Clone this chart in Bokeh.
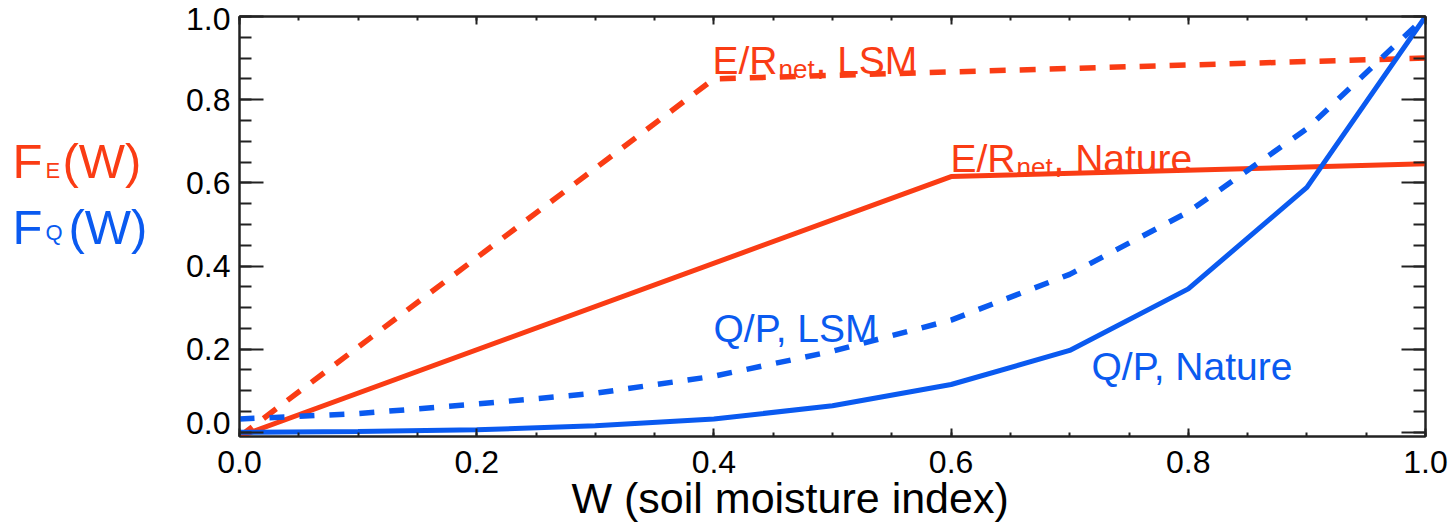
from bokeh.plotting import figure
from bokeh.models import Range1d, FixedTicker, LinearAxis, Label, Title, PrintfTickFormatter
from bokeh.layouts import row
from bokeh.embed import file_html
from bokeh.resources import INLINE

# ---------------- data ----------------
W = [0.0, 0.1, 0.2, 0.3, 0.4, 0.5, 0.6, 0.7, 0.8, 0.9, 1.0]
qp_nature = [0.0, 0.002, 0.006, 0.016, 0.032, 0.064, 0.115, 0.197, 0.345, 0.589, 1.0]
qp_lsm = [0.032, 0.045, 0.068, 0.094, 0.135, 0.195, 0.27, 0.38, 0.53, 0.73, 1.0]

er_lsm_w = [0.0, 0.4, 1.0]
er_lsm = [-0.01, 0.85, 0.90]
er_nature_w = [0.0, 0.6, 1.0]
er_nature = [-0.01, 0.615, 0.646]

major_ticks = [0.0, 0.2, 0.4, 0.6, 0.8, 1.0]
minor_ticks = [round(i * 0.05, 2) for i in range(21)]

ORANGE = "#FA3C14"
BLUE = "#0A5AF0"
INK = "#222222"
FONT = "Liberation Sans"

H = 528
LEFT_W = 168
MAIN_W = 1450 - LEFT_W

p = figure(width=MAIN_W, height=H, x_range=Range1d(0, 1), y_range=Range1d(-0.01, 1.0),
           output_backend="svg", toolbar_location=None,
           x_axis_type=None, y_axis_type=None,
           min_border_left=239 - LEFT_W, min_border_right=25, min_border_top=16,
           min_border_bottom=H - 436)
p.grid.visible = False
p.outline_line_color = INK
p.outline_line_width = 2
p.background_fill_color = "white"
p.border_fill_color = "white"


def make_axis(kind, labels):
    ax = LinearAxis(ticker=FixedTicker(ticks=major_ticks, minor_ticks=minor_ticks),
                    formatter=PrintfTickFormatter(format="%.1f"))
    ax.axis_line_color = INK
    ax.axis_line_width = 2
    ax.major_tick_line_color = INK
    ax.minor_tick_line_color = INK
    ax.major_tick_line_width = 2
    ax.minor_tick_line_width = 2
    ax.major_tick_out = 0
    ax.minor_tick_out = 0
    if kind == "x":
        ax.major_tick_in = 8
        ax.minor_tick_in = 4
    else:
        ax.major_tick_in = 24
        ax.minor_tick_in = 12
    if labels:
        ax.major_label_text_font = FONT
        ax.major_label_text_font_size = "32px"
        ax.major_label_text_color = "black"
        ax.major_label_standoff = 14 if kind == "x" else 9
    else:
        ax.major_label_text_font_size = "1px"
        ax.major_label_text_alpha = 0
        ax.major_label_standoff = 0
    return ax


p.add_layout(make_axis("x", True), "below")
p.add_layout(make_axis("x", False), "above")
yax = make_axis("y", True)
yax.major_label_text_line_height = 0.5
yax.major_label_overrides = {0.0: "0.0\n"}
p.add_layout(yax, "left")
p.add_layout(make_axis("y", False), "right")

p.add_layout(Title(text="W (soil moisture index)", align="left", offset=332, standoff=-8,
                   text_font=FONT, text_font_size="43px", text_font_style="normal",
                   text_color="black"), "below")

p.line(er_lsm_w, er_lsm, line_color=ORANGE, line_width=5.5, line_dash="16 14")
p.line(er_nature_w, er_nature, line_color=ORANGE, line_width=5)
p.line(W, qp_lsm, line_color=BLUE, line_width=5.5, line_dash="15 15")
p.line(W, qp_nature, line_color=BLUE, line_width=5)


# page pixel -> data helpers for text placement inside the main frame
def dx(px):
    return (px - 239) / 1186.0


def dy(py):
    return 1.0 - (py - 16) / 420.0 * 1.01


def txt(fig, x, y, s, size, color):
    fig.add_layout(Label(x=x, y=y, text=s, text_font=FONT,
                         text_font_size=f"{size}px", text_color=color,
                         text_baseline="alphabetic", text_align="left"))


def ann(px, py, s, size, color):
    txt(p, dx(px), dy(py), s, size, color)


# curve annotations
ann(712, 60, "E/R", 39, ORANGE)
ann(778, 68, "net", 26, ORANGE)
ann(815, 60, ", LSM", 39, ORANGE)

ann(950, 158, "E/R", 39, ORANGE)
ann(1016, 166, "net", 26, ORANGE)
ann(1053, 158, ", Nature", 39, ORANGE)

ann(713, 328, "Q/P, LSM", 39, BLUE)
ann(1091, 366, "Q/P, Nature", 39, BLUE)

# left panel holding the F_E(W) / F_Q(W) labels (data units = page pixels)
left = figure(width=LEFT_W, height=H, x_range=Range1d(0, LEFT_W), y_range=Range1d(H, 0),
              output_backend="svg", toolbar_location=None,
              x_axis_type=None, y_axis_type=None,
              min_border_left=0, min_border_right=0, min_border_top=0, min_border_bottom=0)
left.grid.visible = False
left.outline_line_color = None
left.background_fill_color = "white"
left.border_fill_color = "white"

txt(left, 12, 182, "F", 49, ORANGE)
txt(left, 45, 194, "E", 22, ORANGE)
txt(left, 62, 182, "(W)", 49, ORANGE)

txt(left, 12, 265, "F", 49, BLUE)
txt(left, 45, 272, "Q", 22, BLUE)
txt(left, 68, 265, "(W)", 49, BLUE)

layout = row(left, p, spacing=0)
open("out.html", "w").write(file_html(layout, INLINE))
